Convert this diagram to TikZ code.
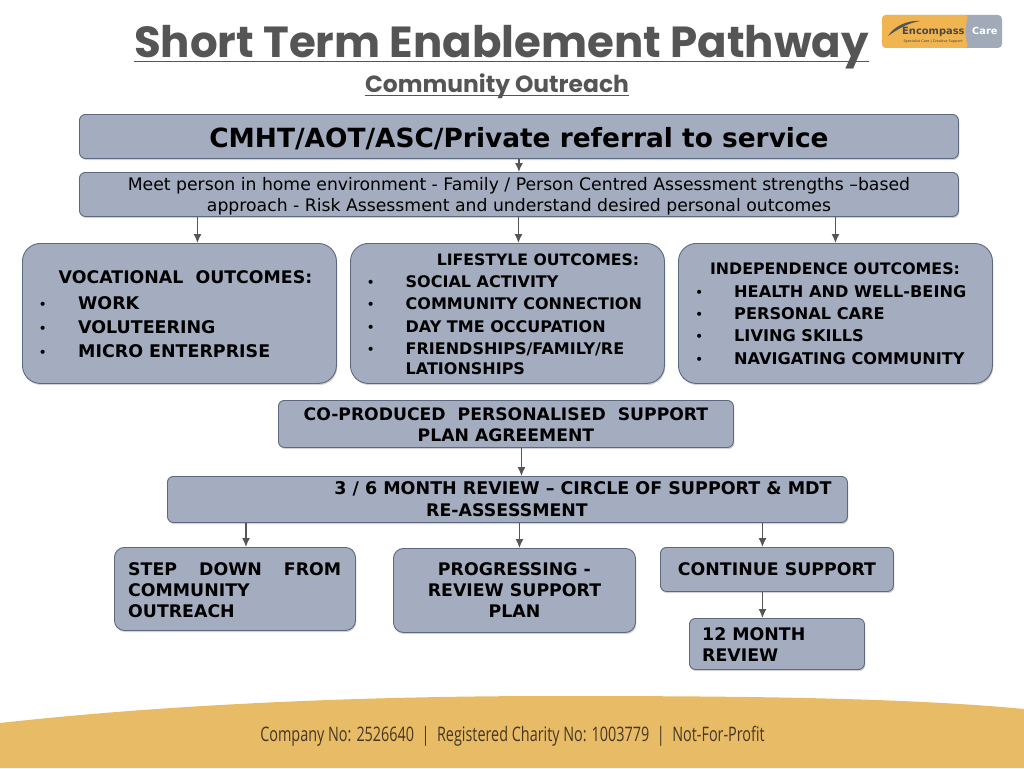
\documentclass[tikz,border=0pt]{standalone}
\usepackage{xcolor}
\usepackage{fontspec}
\usepackage{tikz}
\usetikzlibrary{arrows.meta, shadows}
\setmainfont{DejaVu Sans}
\newfontfamily\titlefont{Poppins}
\newfontfamily\footfont[FakeStretch=0.72]{Open Sans}
\definecolor{boxfill}{RGB}{163, 173, 191}
\definecolor{boxline}{RGB}{92, 104, 128}
\definecolor{titlegrey}{RGB}{85, 85, 85}
\definecolor{wavegold}{RGB}{232, 188, 102}
\definecolor{logogold}{RGB}{240, 180, 80}
\definecolor{logogrey}{RGB}{160, 170, 185}
\definecolor{footbrown}{RGB}{70, 55, 35}
\newcommand{\listdot}{{\normalfont\fontsize{14}{14}\selectfont •}}
\tikzset{
  flowbox/.style={draw=boxline, fill=boxfill, line width=0.9pt, rounded corners=6pt, anchor=north west,
    inner sep=0pt, align=center, drop shadow={shadow xshift=0.8pt, shadow yshift=-1.6pt, opacity=0.35}},
  bigbox/.style={flowbox, rounded corners=18pt},
  boxlabel/.style={font=\bfseries\fontsize{17.35}{21}\selectfont, inner sep=0pt, align=center},
  listlabel/.style={font=\bfseries\fontsize{17.45}{24.4}\selectfont, inner sep=0pt, anchor=base west},
  flow/.style={-{Latex[length=9pt, width=8pt]}, draw=titlegrey, line width=1.3pt},
  underl/.style={draw=titlegrey, line width=1.2pt}
}
\begin{document}
\begin{tikzpicture}[x=1pt, y=-1pt]
        \useasboundingbox (0,0) rectangle (1024,768);

        % footer
        \fill[wavegold] (0,723) .. controls (180,703) and (380,696) .. (555,696) .. controls (720,696) and (900,697) .. (1024,709) -- (1024,768) -- (0,768) -- cycle;
        \node[inner sep=0pt, text=footbrown, font=\footfont\fontsize{20}{24}\selectfont] (footer) at (512.5,736) {Company No: 2526640\ \ |\ \ Registered Charity No: 1003779\ \ |\ \ Not-For-Profit};

        % title
        \node[inner sep=0pt, anchor=base, text=titlegrey, font=\titlefont\bfseries\fontsize{43.5}{48}\selectfont] (title) at (501.5,57) {Short Term Enablement Pathway};
        \node[inner sep=0pt, anchor=base, text=titlegrey, font=\titlefont\bfseries\fontsize{23.4}{28}\selectfont] (subtitle) at (497,92.5) {Community Outreach};
        \draw[underl] ([yshift=-4.5pt]title.base west) -- ([yshift=-4.5pt]title.base east);
        \draw[underl, line width=0.9pt] ([yshift=-3pt]subtitle.base west) -- ([yshift=-3pt]subtitle.base east);

        % logo
        \fill[logogrey, rounded corners=4pt] (882,15) rectangle (1002,48);
        \fill[logogold, rounded corners=4pt] (882,15) -- (969,15) .. controls (965,25) and (965,38) .. (969,48) -- (882,48) -- cycle;
        \fill[titlegrey] (888,36) .. controls (894,26) and (908,20) .. (920,21) .. controls (908,23) and (898,29) .. (888,36) -- cycle;
        \node[inner sep=0pt, anchor=base west, text=titlegrey!85!black, font=\bfseries\fontsize{9.9}{12}\selectfont] (logoname) at (902,35) {Encompass};
        \node[inner sep=0pt, anchor=base west, text=white, font=\bfseries\fontsize{9.8}{12}\selectfont] (logocare) at (972,35) {Care};
        \node[inner sep=0pt, text=titlegrey!85!black, font=\fontsize{3.5}{4}\selectfont] (logosub) at (933,41.5) {Specialist Care | Creative Support};

        % referral and assessment
        \node[flowbox, minimum width=879pt, minimum height=44pt, font=\bfseries\fontsize{26.4}{30}\selectfont] (referral) at (79,114) {\rule{0pt}{25pt}CMHT/AOT/ASC/Private referral to service};
        \node[flowbox, minimum width=879pt, minimum height=44pt, font=\fontsize{17.25}{21}\selectfont] (assess) at (79,172) {\rule{0pt}{16pt}Meet person in home environment - Family / Person Centred Assessment strengths –based\\approach - Risk Assessment and understand desired personal outcomes};

        % outcomes
        \node[bigbox, minimum width=314pt, minimum height=140pt] (vocational) at (22,243) {};
        \node[bigbox, minimum width=314pt, minimum height=140pt] (lifestyle) at (350,243) {};
        \node[bigbox, minimum width=314pt, minimum height=140pt] (independence) at (678,243) {};

        \node[boxlabel] (voctitle) at (185.5,277) {VOCATIONAL\ \ OUTCOMES:};
        \node[listlabel] (voclist) at (38.5,309) {\begin{tabular}[t]{@{}p{39.5pt}@{}l@{}}
            \listdot & WORK\\ \listdot & VOLUTEERING\\ \listdot & MICRO ENTERPRISE\end{tabular}};

        \node[boxlabel, font=\bfseries\fontsize{15.7}{20}\selectfont] (lifetitle) at (538,259.5) {LIFESTYLE OUTCOMES:};
        \node[listlabel, font=\bfseries\fontsize{16}{22.6}\selectfont] (lifelist) at (366.5,287) {\begin{tabular}[t]{@{}p{39pt}@{}l@{}}
            \listdot & SOCIAL ACTIVITY\\ \listdot & COMMUNITY CONNECTION\\ \listdot & DAY TME OCCUPATION\\ \listdot & FRIENDSHIPS/FAMILY/RE\\[-3.4pt] & LATIONSHIPS\end{tabular}};

        \node[boxlabel, font=\bfseries\fontsize{15.8}{20}\selectfont] (indtitle) at (835,268.5) {INDEPENDENCE OUTCOMES:};
        \node[listlabel, font=\bfseries\fontsize{16.15}{22.4}\selectfont] (indlist) at (695,297) {\begin{tabular}[t]{@{}p{39pt}@{}l@{}}
            \listdot & HEALTH AND WELL-BEING\\ \listdot & PERSONAL CARE\\ \listdot & LIVING SKILLS\\ \listdot & NAVIGATING COMMUNITY\end{tabular}};

        % support plan and review
        \node[flowbox, minimum width=455pt, minimum height=47pt, font=\bfseries\fontsize{17.2}{20.5}\selectfont] (plan) at (278,400) {\rule{0pt}{14pt}CO-PRODUCED\ \ PERSONALISED\ \ SUPPORT\\PLAN AGREEMENT};
        \node[flowbox, minimum width=680pt, minimum height=46pt] (review) at (167,476) {};
        \node[boxlabel, font=\bfseries\fontsize{17.5}{21}\selectfont] (reviewa) at (583,489) {3 / 6 MONTH REVIEW – CIRCLE OF SUPPORT \& MDT};
        \node[boxlabel] (reviewb) at (507,510) {RE-ASSESSMENT};

        % results
        \node[flowbox, rounded corners=10pt, minimum width=241pt, minimum height=83pt] (stepdown) at (114,547) {};
        \node[boxlabel, anchor=north west, align=left] (steptext) at (128,562.5) {\makebox[213pt][s]{STEP\hfill DOWN\hfill FROM}\\COMMUNITY\\OUTREACH};
        \node[flowbox, rounded corners=10pt, minimum width=242pt, minimum height=84pt, font=\bfseries\fontsize{17.35}{21}\selectfont] (progress) at (393,548) {PROGRESSING -\\REVIEW SUPPORT\\PLAN};
        \node[flowbox, minimum width=233pt, minimum height=44pt, font=\bfseries\fontsize{17.35}{21}\selectfont] (continue) at (660,547) {CONTINUE SUPPORT};
        \node[flowbox, minimum width=175pt, minimum height=51pt] (twelve) at (689,618) {};
        \node[boxlabel, anchor=north west, align=left] (twelvetext) at (702,627.5) {12 MONTH\\REVIEW};

        % arrows
        \draw[flow] (referral.south) -- (assess.north);
        \draw[flow] ([xshift=18pt]vocational.north |- assess.south) -- ([xshift=18pt]vocational.north);
        \draw[flow] ([xshift=11pt]lifestyle.north |- assess.south) -- ([xshift=11pt]lifestyle.north);
        \draw[flow] (independence.north |- assess.south) -- (independence.north);
        \draw[flow] ([xshift=15.5pt]plan.south) -- ([xshift=15.5pt]plan.south |- review.north);
        \draw[flow] ([xshift=11pt]stepdown.north |- review.south) -- ([xshift=11pt]stepdown.north);
        \draw[flow] ([xshift=5pt]progress.north |- review.south) -- ([xshift=5pt]progress.north);
        \draw[flow] ([xshift=-14.5pt]continue.north |- review.south) -- ([xshift=-14.5pt]continue.north);
        \draw[flow] ([xshift=-14.5pt]continue.south) -- ([xshift=-14.5pt]continue.south |- twelve.north);
\end{tikzpicture}
\end{document}
